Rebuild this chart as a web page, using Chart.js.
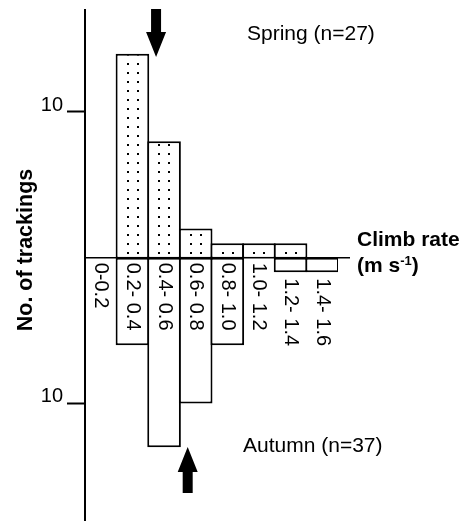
<!DOCTYPE html>
<html>
<head>
<meta charset="utf-8">
<script src="https://cdn.jsdelivr.net/npm/chart.js@4.4.1/dist/chart.umd.min.js"></script>
<style>
  html, body { margin: 0; padding: 0; background: #fff; }
  #wrap { width: 467px; height: 521px; }
</style>
</head>
<body>
<div id="wrap"><canvas id="chart" width="467" height="521"></canvas></div>
<script>
const categories = ['0-0.2', '0.2- 0.4', '0.4- 0.6', '0.6- 0.8', '0.8- 1.0', '1.0- 1.2', '1.2- 1.4', '1.4- 1.6'];
const springCounts = [0, 14, 8, 2, 1, 1, 1, 0];
const autumnCounts = [0, 6, 13, 10, 6, 0, 1, 1];
const yTickValues = [10, -10];

const FONT = 'Arial, "Liberation Sans", Helvetica, sans-serif';
const total = arr => arr.reduce((a, b) => a + b, 0);

// stippled fill for the spring bars, lined up with each bar's left edge
function dotFill(c) {
  const chart = c.chart;
  const xs = chart.scales.x, ys = chart.scales.y;
  if (!xs || !ys || c.dataIndex === undefined) return '#fff';
  const half = xs.width / categories.length / 2;
  const left = Math.round(xs.getPixelForValue(c.dataIndex) - half);
  const base = Math.round(ys.getPixelForValue(0));
  const tile = document.createElement('canvas');
  tile.width = 40; tile.height = 9;
  const t = tile.getContext('2d');
  t.fillStyle = '#fff'; t.fillRect(0, 0, 40, 9);
  t.fillStyle = '#000';
  t.fillRect(10, 3, 2, 2); t.fillRect(20, 3, 2, 2);
  const p = chart.ctx.createPattern(tile, 'repeat');
  p.setTransform(new DOMMatrix([1, 0, 0, 1, left, base - 9]));
  return p;
}

function arrow(ctx, cx, tail, tip) {
  const dir = Math.sign(tip - tail);
  const hb = tip - dir * 25;
  ctx.beginPath();
  ctx.moveTo(cx - 5, tail); ctx.lineTo(cx + 5, tail);
  ctx.lineTo(cx + 5, hb); ctx.lineTo(cx + 10, hb);
  ctx.lineTo(cx, tip);
  ctx.lineTo(cx - 10, hb); ctx.lineTo(cx - 5, hb);
  ctx.closePath();
  ctx.fill();
}

const decor = {
  id: 'decor',
  beforeDatasetsDraw(chart) {
    const { ctx, chartArea, scales: { y } } = chart;
    const y0 = y.getPixelForValue(0);
    ctx.save();
    ctx.strokeStyle = '#000';
    ctx.lineWidth = 1.5;
    ctx.beginPath();
    ctx.moveTo(chartArea.left, y0);
    ctx.lineTo(350, y0);
    ctx.stroke();
    ctx.restore();
  },
  afterDatasetsDraw(chart) {
    const { ctx, scales: { x, y } } = chart;
    const y0 = y.getPixelForValue(0);
    ctx.save();
    ctx.fillStyle = '#000';

    // category labels, reading downwards under the baseline
    ctx.font = '20px ' + FONT;
    ctx.textAlign = 'left';
    ctx.textBaseline = 'middle';
    categories.forEach((lab, i) => {
      const bottom = y.getPixelForValue(-autumnCounts[i]);
      const start = (autumnCounts[i] > 0 && bottom - y0 < 25) ? bottom + 6 : y0 + 5;
      ctx.save();
      ctx.translate(x.getPixelForValue(i), start);
      ctx.rotate(Math.PI / 2);
      ctx.fillText(lab, 0, 0);
      ctx.restore();
    });

    ctx.textBaseline = 'alphabetic';
    ctx.font = '21px ' + FONT;
    ctx.fillText('Spring (n=' + total(springCounts) + ')', 247, 40);
    ctx.fillText('Autumn (n=' + total(autumnCounts) + ')', 243, 452);

    ctx.font = 'bold 21px ' + FONT;
    ctx.fillText('Climb rate', 357, 246);
    ctx.fillText('(m s', 357, 272);
    const w1 = ctx.measureText('(m s').width;
    ctx.font = 'bold 13px ' + FONT;
    ctx.fillText('-1', 357 + w1, 265);
    const w2 = ctx.measureText('-1').width;
    ctx.font = 'bold 21px ' + FONT;
    ctx.fillText(')', 357 + w1 + w2, 272);

    ctx.save();
    ctx.translate(26, 250);
    ctx.rotate(-Math.PI / 2);
    ctx.textAlign = 'center';
    ctx.textBaseline = 'middle';
    ctx.font = 'bold 21.5px ' + FONT;
    ctx.fillText('No. of trackings', 0, 0);
    ctx.restore();

    arrow(ctx, x.getPixelForValue(2) - 8, 9, 57);
    arrow(ctx, x.getPixelForValue(3) - 8, 493, 447);
    ctx.restore();
  }
};

new Chart(document.getElementById('chart'), {
  type: 'bar',
  data: {
    labels: categories,
    datasets: [
      {
        label: 'Spring',
        data: springCounts,
        backgroundColor: dotFill,
        borderColor: '#000',
        borderWidth: { top: 2, right: 2, bottom: 1, left: 2 },
        borderSkipped: false
      },
      {
        label: 'Autumn',
        data: autumnCounts.map(v => -v),
        backgroundColor: '#fff',
        borderColor: '#000',
        borderWidth: 2,
        borderSkipped: false
      }
    ]
  },
  options: {
    responsive: false,
    devicePixelRatio: 1,
    animation: false,
    layout: { padding: { top: 10, right: 129, bottom: 1, left: 0 } },
    datasets: { bar: { categoryPercentage: 1, barPercentage: 1.063 } },
    plugins: { legend: { display: false }, tooltip: { enabled: false } },
    scales: {
      x: { stacked: true, display: false },
      y: {
        stacked: true,
        min: -18,
        max: 17,
        afterFit(scale) {
          scale.width = 85;
          scale.paddingTop = 0;
          scale.paddingBottom = 0;
        },
        afterBuildTicks(scale) { scale.ticks = yTickValues.map(v => ({ value: v })); },
        border: { display: true, color: '#000', width: 2 },
        grid: { drawOnChartArea: false, color: '#000', tickColor: '#000', tickLength: 18, tickWidth: 2 },
        ticks: {
          color: '#000',
          font: { size: 20, family: FONT },
          padding: 4,
          labelOffset: -7,
          callback: v => Math.abs(v)
        }
      }
    }
  },
  plugins: [decor]
});
</script>
</body>
</html>
